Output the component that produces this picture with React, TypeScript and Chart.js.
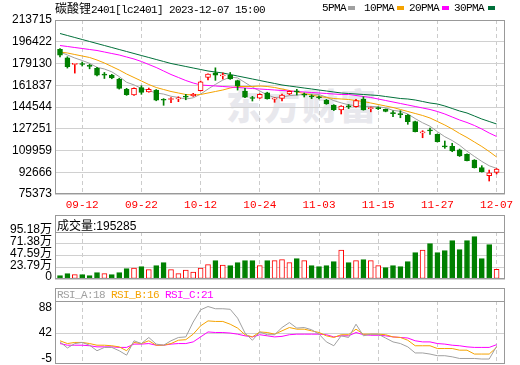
import React, { useEffect, useRef } from 'react';
import { Chart, registerables } from 'chart.js';
Chart.register(...registerables);

// ---------- data ----------
const dates = [
  '09-07','09-08','09-11','09-12','09-13','09-14','09-15','09-18','09-19','09-20','09-21','09-22','09-25','09-26','09-27','09-28',
  '10-09','10-10','10-11','10-12','10-13','10-16','10-17','10-18','10-19','10-20','10-23','10-24','10-25','10-26','10-27','10-30','10-31',
  '11-01','11-02','11-03','11-06','11-07','11-08','11-09','11-10','11-13','11-14','11-15','11-16','11-17','11-20','11-21','11-22','11-23','11-24','11-27','11-28','11-29','11-30',
  '12-01','12-04','12-05','12-06','12-07',
];
const xTickLabels = ['09-12', '09-22', '10-12', '10-24', '11-03', '11-15', '11-27', '12-07'];

const open = [190400,183700,178400,178700,177300,175300,170300,170000,166800,158600,154100,160000,156500,158000,150300,150500,151000,152600,153300,157500,168000,171800,169300,170000,165500,157300,151700,151500,155900,150800,151300,154900,157200,154400,153000,152300,150100,146000,142200,145000,144900,150900,143200,143600,142600,139800,139000,138200,132900,124000,126000,122800,113200,113300,110400,106900,102400,96300,89900,92600];
const high = [190900,184500,178900,180300,178600,176000,172000,170500,167400,159400,159700,161500,159600,158400,151200,152000,152700,154600,155400,165200,170900,175700,171600,172000,165900,159400,153000,155100,156300,152000,154900,157400,158600,155700,154300,153500,150600,146400,145600,146500,150700,152700,144600,144600,143000,141400,141600,138600,133300,125700,127800,123100,117500,115700,111100,107300,102700,97900,94400,95600];
const low = [184300,175500,171500,177100,174900,169300,167200,167000,158800,153800,153800,154600,156300,149500,145900,147900,148800,150300,153000,157300,166000,165700,166800,166500,158000,152000,149300,151300,150800,148300,149300,154300,154100,152500,151200,150900,146700,141700,139000,143300,144500,142000,140700,142500,140700,136900,136000,130800,124700,120100,122800,116700,111700,109000,105200,101600,96000,92800,85700,91300];
const close = [185700,176600,178900,178300,176900,169800,169900,167600,159400,154300,159400,156200,158600,150000,149900,150800,151300,152400,154900,164600,170800,169800,169600,166800,161400,152300,151300,154600,151000,151200,154100,157000,156600,154000,152600,151900,147000,142400,145300,144600,149700,142200,143500,143300,141000,139300,138500,132900,124900,124400,125500,117000,112900,109600,105600,101800,96300,93100,92300,95200];

const ma5 = [188270,185890,183500,181500,179280,176100,174760,172500,168720,164200,162120,159380,157580,155700,154820,153100,152120,150880,151860,154800,158800,162500,165940,168320,167680,163980,160280,157280,154120,152090,152440,153580,153980,154580,154860,154420,152420,149580,147840,146240,145800,144840,145060,144660,143940,141860,141120,139000,135320,132000,129240,124940,120940,117880,114120,109380,105240,101280,97820,95740];
const ma10 = [188270,187480,186280,185090,183900,181910,179530,176740,173960,170780,168000,165220,162430,160050,158460,156870,155680,154480,154090,154480,155680,156870,158060,159650,160840,160840,160840,161240,160840,160050,158860,157660,156470,155280,154090,152890,152100,151300,150910,150510,149710,148920,147720,146530,145340,144150,142560,140970,139380,137790,135800,133020,130230,127050,123480,120300,116720,113140,109160,104790];
const ma20 = [193440,192650,191850,191060,190260,189470,188270,187080,185890,184300,182710,180720,178330,175950,173170,170380,168000,165610,163630,162040,161640,161240,160840,160450,160050,159650,159250,158860,158460,158060,157660,157270,156870,156470,156070,155680,155280,154880,154480,154480,153690,152890,152100,150910,149710,148520,147330,146140,144940,143750,142560,140970,138980,136590,134210,132220,129840,127050,123870,121090];
const ma30 = [202980,201390,199800,198210,196620,195030,193440,191850,190260,188670,187080,185490,183900,182310,180720,179130,177940,176750,175550,174360,173170,172370,171580,170380,169190,168000,166810,165610,164420,163230,162040,161240,160450,159650,158860,158060,157270,156470,155680,155280,154880,154480,154090,153690,152890,152100,151300,150900,150110,148920,147720,146930,145340,143350,141360,139770,137390,135000,133020,131030];

const volume = [66800,107300,87100,87100,66800,127600,107300,87100,127600,208600,222800,249100,188300,269300,330100,188300,107300,182300,141800,222800,289600,370600,283500,269300,330100,370600,370600,269300,370600,370600,390800,330100,411100,370600,269300,249100,269300,350300,587300,330100,370600,390800,370600,269300,228800,269300,249100,350300,532600,587300,714900,532600,573100,775600,593400,775600,856600,411100,694600,195285];
const volUp = [0,0,1,0,0,0,1,0,0,0,1,0,1,0,0,1,1,1,1,1,1,0,1,0,0,0,0,1,0,1,1,1,0,1,0,0,0,0,1,0,1,0,1,1,0,0,0,0,0,1,0,0,0,0,0,0,0,0,0,1];

const rsiA = [26,15,23,25,20,10,16,16,10,2,28,23,34,22,20,28,34,35,62,84,90,86,86,85,69,42,29,44,39,39,52,61,51,52,48,40,26,19,37,34,58,37,40,40,33,26,23,17,6,6,4,1,1,-1,-4,-4,-4,-5,-5,18];
const rsiB = [28,23,25,25,23,20,20,19,17,10,25,23,28,20,20,23,29,30,40,55,64,63,63,58,51,39,35,44,43,40,46,52,49,49,46,43,37,34,39,39,49,40,40,40,39,35,34,29,19,19,19,14,14,14,11,11,4,4,4,16];
const rsiC = [23,20,20,20,19,17,17,17,16,16,22,22,23,20,20,22,23,23,26,35,44,43,43,42,40,37,35,39,37,35,36,39,40,40,40,40,39,35,37,37,43,39,38,38,37,35,34,33,28,26,26,23,22,20,19,17,16,16,16,21];

const priceTicks = [75373, 92666, 109959, 127251, 144544, 161837, 179130, 196422, 213715];
const volTicks = [0, 237950, 475900, 713850, 951800];
const volTickLabels = ['0', '23.79万', '47.59万', '71.38万', '95.18万'];
const rsiTicks = [-5, 42, 88];

// ---------- style ----------
const RED = '#ff0000';
const GREEN = '#008000';
const C5 = '#a0a0a0';
const C10 = '#f5a300';
const C20 = '#ff00ff';
const C30 = '#00703a';
const GRID = '#d0d0d0';
const FRAME = '#999999';
const MONO = '"Liberation Mono", "DejaVu Sans Mono", monospace';
const SANS = '"Liberation Sans", Arial, "Noto Sans CJK SC", sans-serif';
const CJK = '"Noto Sans CJK SC", sans-serif';
const X_MIN = -0.676;
const X_MAX = 60.135;

const framePlugin: any = {
  id: 'frame',
  afterDraw(chart: any, _args: any, opts: any) {
    const { ctx, chartArea: a } = chart;
    const extra = opts.extraTop || 0;
    const l = Math.round(a.left) + 0.5;
    const r = Math.round(a.right) - 0.5;
    const t = Math.round(a.top) + 0.5;
    const b = Math.round(a.bottom) - 0.5;
    ctx.save();
    ctx.strokeStyle = FRAME;
    ctx.lineWidth = 1;
    ctx.strokeRect(l, t - extra, r - l, b - t + extra);
    if (extra) {
      ctx.beginPath();
      ctx.moveTo(l, t);
      ctx.lineTo(r, t);
      ctx.stroke();
    }
    ctx.restore();
  },
};

const tickIdx = xTickLabels.map((d) => dates.indexOf(d));

function xScale(showLabels: boolean, axisH: number): any {
  return {
    type: 'linear',
    min: X_MIN,
    max: X_MAX,
    offset: false,
    afterBuildTicks: (s: any) => { s.ticks = tickIdx.map((v) => ({ value: v })); },
    afterFit: (s: any) => { s.height = axisH; s.paddingLeft = 0; s.paddingRight = 0; },
    grid: { color: '#cccccc', drawTicks: false, offset: false },
    border: { display: false, dash: [4, 3] },
    ticks: {
      display: showLabels, autoSkip: false, maxRotation: 0, padding: 4, color: RED,
      font: { family: MONO, size: 11 },
      callback: (v: any) => dates[v] ?? '',
    },
  };
}

function yScale(min: number, max: number, ticks: number[], labelFn: (v: number) => string, gridColor: any, labelOffset = 0): any {
  return {
    type: 'linear',
    min, max,
    afterBuildTicks: (s: any) => { s.ticks = ticks.map((v) => ({ value: v })); },
    afterFit: (s: any) => { s.width = 55; s.paddingTop = 0; s.paddingBottom = 0; },
    grid: { color: gridColor, drawTicks: false },
    border: { display: false },
    ticks: {
      autoSkip: false, padding: 3, color: '#000', labelOffset,
      font: { family: SANS, size: 12 },
      callback: (v: any) => labelFn(v),
    },
  };
}

const baseOpts: any = {
  responsive: false,
  animation: false,
  events: [],
  plugins: { legend: { display: false }, tooltip: { enabled: false } },
};

function lineDs(data: number[], color: string, order: number): any {
  return {
    type: 'line', data: data.map((v, i) => ({ x: i, y: v })), borderColor: color,
    borderWidth: 1, pointRadius: 0, tension: 0, order, fill: false,
  };
}

export default function App() {
  const mainRef = useRef<HTMLCanvasElement>(null);
  const volRef = useRef<HTMLCanvasElement>(null);
  const rsiRef = useRef<HTMLCanvasElement>(null);

  useEffect(() => {
    const charts: Chart[] = [];
    const up = close.map((c, i) => c >= open[i]);

    charts.push(new Chart(mainRef.current as HTMLCanvasElement, {
      type: 'bar',
      data: {
        datasets: [
          lineDs(ma30, C30, 3),
          lineDs(ma20, C20, 3),
          lineDs(ma10, C10, 3),
          lineDs(ma5, C5, 3),
          {
            type: 'bar', data: low.map((l, i) => ({ x: i, y: [l, high[i]] })),
            backgroundColor: up.map((u) => (u ? RED : GREEN)), borderWidth: 0,
            barThickness: 1, grouped: false, order: 2,
          },
          {
            type: 'bar', data: open.map((o, i) => ({ x: i, y: [o, close[i]] })),
            backgroundColor: up.map((u) => (u ? '#ffffff' : GREEN)),
            borderColor: up.map((u) => (u ? RED : GREEN)),
            borderWidth: 1, borderSkipped: false, minBarLength: 1,
            barThickness: 5, grouped: false, order: 1,
          },
        ] as any,
      },
      options: {
        ...baseOpts,
        layout: { padding: { top: 20, right: 15, left: 0, bottom: 0 } },
        scales: {
          x: xScale(true, 21),
          y: yScale(75373, 213715, priceTicks, (v) => String(v), GRID),
        },
        plugins: { ...baseOpts.plugins, frame: { extraTop: 0 } },
      } as any,
      plugins: [framePlugin],
    }));

    charts.push(new Chart(volRef.current as HTMLCanvasElement, {
      type: 'bar',
      data: {
        datasets: [
          {
            type: 'bar', data: volume.map((v, i) => ({ x: i, y: v })),
            backgroundColor: volUp.map((u) => (u ? '#ffffff' : GREEN)),
            borderColor: volUp.map((u) => (u ? RED : GREEN)),
            borderWidth: 1, borderSkipped: false, barThickness: 5, grouped: false,
          },
        ] as any,
      },
      options: {
        ...baseOpts,
        layout: { padding: { top: 20, right: 15, left: 0, bottom: 0 } },
        scales: {
          x: xScale(false, 6),
          y: yScale(0, 951800, volTicks, (v) => volTickLabels[volTicks.indexOf(v)] ?? '', GRID, -2),
        },
        plugins: { ...baseOpts.plugins, frame: { extraTop: 17 } },
      } as any,
      plugins: [framePlugin],
    }));

    charts.push(new Chart(rsiRef.current as HTMLCanvasElement, {
      type: 'line',
      data: {
        datasets: [
          lineDs(rsiC, C20, 3),
          lineDs(rsiB, C10, 2),
          lineDs(rsiA, C5, 1),
        ],
      },
      options: {
        ...baseOpts,
        layout: { padding: { top: 16, right: 15, left: 0, bottom: 1 } },
        scales: {
          x: xScale(false, 0),
          y: yScale(-14, 100, rsiTicks, (v) => String(v),
            (c: any) => (c.tick && c.tick.value === 42 ? GRID : 'rgba(0,0,0,0)')),
        },
        plugins: { ...baseOpts.plugins, frame: { extraTop: 13 } },
      } as any,
      plugins: [framePlugin],
    }));

    return () => charts.forEach((c) => c.destroy());
  }, []);

  const abs = (left: number, top: number, extra: any = {}) => ({ position: 'absolute' as const, left, top, whiteSpace: 'pre' as const, ...extra });
  const mono: any = { fontFamily: MONO, fontSize: 11, letterSpacing: '-0.6px', lineHeight: '14px' };
  const sq = (left: number, color: string) => (
    <div style={abs(left, 6, { width: 7, height: 4, background: color })} />
  );

  return (
    <div style={{ position: 'fixed', left: 0, top: 0, width: 520, height: 365, background: '#fff', overflow: 'hidden' }}>
      <div style={abs(226, 82, { fontFamily: CJK, fontSize: 36, fontWeight: 900, color: '#e8e8ed', letterSpacing: 2, lineHeight: '44px' })}>东方财富</div>
      <div style={abs(0, 0)}><canvas ref={mainRef} width={520} height={215} /></div>
      <div style={abs(0, 212)}><canvas ref={volRef} width={520} height={73} /></div>
      <div style={abs(0, 285)}><canvas ref={rsiRef} width={520} height={80} /></div>

      <div style={abs(55, 1, { ...mono, color: '#000' })}>
        <span style={{ fontFamily: CJK, fontSize: 12, letterSpacing: 0 }}>碳酸锂</span>2401[lc2401] 2023-12-07 15:00
      </div>
      <div style={abs(322, 1, mono)}>5PMA</div>
      {sq(348, C5)}
      <div style={abs(364, 1, mono)}>10PMA</div>
      {sq(397, C10)}
      <div style={abs(409, 1, mono)}>20PMA</div>
      {sq(442, C20)}
      <div style={abs(454, 1, mono)}>30PMA</div>
      {sq(488, C30)}

      <div style={abs(57, 218, { fontFamily: SANS, fontSize: 12, lineHeight: '14px', color: '#000' })}>
        <span style={{ fontFamily: CJK }}>成交量</span>:195285
      </div>
      <div style={abs(57, 288, mono)}>
        <span style={{ color: C5 }}>RSI_A:18</span> <span style={{ color: C10 }}>RSI_B:16</span> <span style={{ color: C20 }}>RSI_C:21</span>
      </div>
    </div>
  );
}
